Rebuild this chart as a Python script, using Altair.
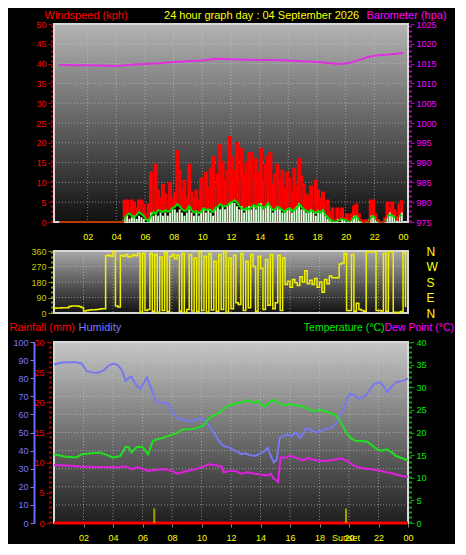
import altair as alt
import pandas as pd

# ---------------- data ----------------
HOUR_TICKS = [2, 4, 6, 8, 10, 12, 14, 16, 18, 20, 22, 24]
SAMPLES_PER_HOUR = 6  # ten-minute samples for wind

# wind gust (kph), one row per hour, ten-minute samples
GUST = [
    0, 0, 0, 0, 0, 0,
    0, 0, 0, 0, 0, 0,
    0, 0, 0, 0, 0, 0,
    0, 0, 0, 0, 0, 0,
    0, 0, 0, 5.5, 5.5, 3.5,
    5.5, 5.0, 3.5, 5.5, 5.5, 4.5,
    2.0, 4.5, 12.5, 9.0, 14.5, 8.0,
    6.0, 9.5, 7.0, 5.0, 10.0, 6.0,
    7.5, 18.0, 13.0, 8.0, 10.5, 6.0,
    14.5, 7.5, 6.0, 8.0, 5.5, 11.0,
    10.0, 12.5, 8.5, 13.5, 16.5, 9.0,
    12.0, 19.5, 15.0, 10.5, 13.0, 21.5,
    16.5, 13.0, 20.0, 11.0, 18.5, 12.0,
    15.0, 17.5, 17.5, 11.5, 16.0, 12.5,
    18.5, 10.5, 14.5, 16.5, 17.5, 9.5,
    12.0, 14.5, 10.5, 13.0, 8.5, 12.5,
    11.0, 7.5, 13.5, 9.0, 16.0, 11.5,
    9.5, 7.0, 6.5, 9.0, 5.5, 10.5,
    8.0, 6.0, 7.5, 4.5, 5.5, 2.5,
    3.5, 0.5, 3.5, 2.0, 3.5, 1.0,
    2.0, 0.5, 2.0, 4.0, 4.5, 2.0,
    0.5, 0, 0.5, 0, 5.5, 5.5,
    2.0, 0.5, 0, 0, 1.0, 5.0,
    3.5, 5.0, 3.0, 0.5, 4.5, 5.5,
]

# average wind speed (kph)
WIND_AVG = [
    0, 0, 0, 0, 0, 0,
    0, 0, 0, 0, 0, 0,
    0, 0, 0, 0, 0, 0,
    0, 0, 0, 0, 0, 0,
    0, 0, 0, 1.0, 1.8, 2.2,
    1.5, 1.2, 1.8, 2.5, 2.0, 1.5,
    0.5, 0.3, 1.5, 2.5, 2.0, 3.0,
    2.8, 2.5, 3.0, 2.6, 2.8, 3.5,
    3.8, 4.5, 4.0, 3.2, 2.8, 3.0,
    4.0, 3.0, 2.4, 2.8, 2.2, 2.6,
    3.5, 3.0, 3.2, 3.0, 2.5, 3.5,
    3.8, 4.5, 4.0, 4.0, 4.2, 4.8,
    5.0, 5.5, 5.0, 4.0, 3.5, 3.0,
    3.6, 3.2, 3.8, 4.3, 3.6, 4.5,
    4.2, 3.5, 3.8, 4.8, 3.8, 3.0,
    3.2, 3.8, 3.5, 3.0, 2.6, 3.2,
    3.5, 2.8, 3.0, 3.6, 4.5, 3.8,
    3.2, 2.8, 2.5, 3.0, 2.6, 2.2,
    2.8, 2.4, 3.0, 1.8, 1.2, 0.5,
    0.3, 0.2, 0.3, 0.5, 0.8, 0.6,
    0.3, 0.2, 0.5, 1.2, 1.5, 0.6,
    0.2, 0, 0, 0.3, 1.2, 1.5,
    0.8, 0.3, 0, 0, 0.4, 1.5,
    1.8, 1.6, 1.2, 1.0, 1.5, 1.8,
]

# instantaneous wind speed (kph)
WIND_SPEED = [
    0, 0, 0, 0, 0, 0,
    0, 0, 0, 0, 0, 0,
    0, 0, 0, 0, 0, 0,
    0, 0, 0, 0, 0, 0,
    0, 0, 0, 1.2, 1.6, 0.8,
    1.2, 1.6, 0.8, 1.6, 1.2, 0.8,
    0, 0.8, 2.4, 1.6, 2.4, 1.6,
    2.4, 1.6, 2.4, 1.6, 2.4, 3.2,
    3.2, 2.4, 3.2, 2.4, 1.6, 2.4,
    3.2, 2.4, 1.6, 2.4, 1.6, 2.4,
    3.2, 2.4, 3.2, 2.4, 1.6, 3.2,
    4.0, 3.2, 4.0, 3.2, 4.0, 4.8,
    4.8, 4.8, 4.0, 3.2, 4.0, 2.4,
    3.2, 4.0, 3.2, 4.0, 3.2, 4.0,
    4.8, 3.2, 4.0, 4.8, 4.0, 2.4,
    3.2, 4.0, 3.2, 2.4, 2.4, 3.2,
    3.2, 2.4, 3.2, 4.0, 4.8, 3.2,
    3.2, 2.4, 2.4, 3.2, 2.4, 1.6,
    2.4, 2.4, 3.2, 1.6, 0.8, 0.8,
    0, 0, 0.8, 0, 0.8, 0.8,
    0, 0, 0.8, 1.6, 1.6, 0.8,
    0, 0, 0, 0, 1.6, 1.6,
    0.8, 0, 0, 0, 0, 1.6,
    2.4, 1.6, 1.6, 0.8, 1.6, 2.4,
]

# wind direction (degrees)
WIND_DIR = [
    28, 29, 29, 30, 31, 30,
    38, 40, 41, 40, 38, 32,
    12, 15, 18, 19, 19, 20,
    22, 24, 24, 333, 335, 330,
    355, 40, 35, 335, 330, 340,
    325, 330, 338, 332, 345, 5,
    345, 15, 20, 345, 10, 340,
    5, 325, 15, 350, 8, 330,
    340, 315, 335, 10, 345, 5,
    20, 340, 12, 320, 8, 355,
    15, 330, 5, 345, 18, 300,
    10, 340, 20, 355, 5, 320,
    25, 335, 60, 50, 345, 15,
    300, 30, 340, 270, 10, 330,
    260, 20, 310, 45, 340, 25,
    60, 335, 15, 320, 165, 185,
    150, 195, 175, 160, 210, 180,
    245, 170, 190, 165, 200, 150,
    180, 120, 195, 170, 215, 205,
    205, 205, 285, 290, 345, 15,
    15, 340, 10, 57, 20, 15,
    10, 355, 355, 355, 355, 15,
    15, 12, 345, 10, 355, 355,
    5, 3, 5, 8, 350, 35,
]

BAROMETER = [
    (0, 1014.7), (1, 1014.6), (2, 1014.6), (3, 1014.5), (4, 1014.4), (4.5, 1014.5),
    (5, 1014.7), (6, 1014.9), (7, 1015.1), (8, 1015.4), (9, 1015.6), (10, 1015.8),
    (11, 1016.2), (12, 1016.1), (13, 1016.0), (14, 1015.9), (15, 1015.9), (16, 1015.8),
    (17, 1015.6), (18, 1015.4), (19, 1015.1), (19.5, 1014.9), (20, 1015.0), (20.5, 1015.4),
    (21, 1016.0), (21.5, 1016.6), (22, 1017.0), (22.5, 1017.2), (23, 1017.3), (23.5, 1017.5),
    (24, 1017.7),
]

HUMIDITY = [
    (0, 87.6), (0.5, 88.5), (1.0, 88.8), (1.5, 88.8), (1.9, 88.0), (2.2, 84.0), (2.6, 83.2),
    (3.0, 83.0), (3.4, 84.5), (3.7, 87.0), (4.0, 88.0), (4.3, 87.5), (4.6, 84.5), (4.85, 78.5),
    (5.05, 80.0), (5.25, 81.0), (5.5, 77.0), (5.85, 74.0), (6.05, 77.0), (6.3, 80.4), (6.6, 74.0),
    (6.9, 67.0), (7.3, 66.5), (7.7, 66.0), (8.0, 62.0), (8.2, 59.5), (8.4, 57.5), (8.8, 57.0),
    (9.2, 56.0), (9.6, 57.0), (10.0, 57.8), (10.3, 56.0), (10.6, 53.0), (10.9, 49.0), (11.2, 45.0),
    (11.5, 42.5), (11.8, 42.0), (12.1, 40.7), (12.4, 39.5), (12.7, 38.0), (13.0, 38.5), (13.3, 37.5),
    (13.6, 37.0), (13.9, 38.0), (14.25, 39.6), (14.5, 41.6), (14.7, 37.0), (14.9, 33.5), (15.1, 35.0),
    (15.3, 47.0), (15.5, 48.0), (15.8, 48.8), (16.1, 48.0), (16.4, 50.0), (16.7, 47.0), (17.1, 52.4),
    (17.4, 51.5), (17.75, 50.0), (18.1, 51.0), (18.4, 52.0), (18.8, 52.4), (19.1, 55.0), (19.4, 59.0),
    (19.7, 65.0), (20.05, 71.4), (20.4, 70.5), (20.7, 68.6), (21.1, 70.0), (21.4, 73.5), (21.7, 76.8),
    (22.1, 77.8), (22.35, 75.5), (22.56, 72.3), (22.9, 75.5), (23.2, 77.8), (23.65, 78.5), (24.0, 79.8),
]

TEMPERATURE = [
    (0, 15.2), (0.7, 14.7), (1.5, 14.5), (1.9, 15.2), (2.5, 15.4), (3.1, 15.6), (3.6, 15.0),
    (4.0, 14.5), (4.5, 14.8), (4.85, 16.8), (5.05, 16.8), (5.26, 15.6), (5.6, 16.8), (6.0, 16.8),
    (6.38, 15.2), (6.7, 18.1), (7.0, 18.5), (7.35, 18.8), (7.7, 19.2), (8.02, 19.5), (8.35, 19.9),
    (8.68, 20.6), (9.0, 20.7), (9.44, 20.8), (9.8, 21.1), (10.1, 21.5), (10.5, 23.1), (10.85, 23.8),
    (11.2, 24.4), (11.5, 25.2), (11.85, 26.0), (12.2, 26.3), (12.5, 26.5), (12.85, 26.8), (13.16, 27.1),
    (13.4, 26.8), (13.6, 26.5), (13.8, 27.0), (14.0, 26.4), (14.25, 25.7), (14.6, 26.6), (14.9, 27.2),
    (15.2, 26.6), (15.56, 26.0), (15.9, 26.3), (16.2, 26.1), (16.5, 26.0), (16.87, 25.7), (17.2, 25.3),
    (17.5, 24.7), (17.85, 24.9), (18.2, 24.9), (18.5, 24.6), (18.84, 24.2), (19.1, 23.8), (19.3, 23.1),
    (19.6, 21.3), (19.93, 19.5), (20.2, 18.6), (20.5, 18.1), (20.85, 18.1), (21.2, 18.0), (21.55, 17.2),
    (21.9, 16.3), (22.2, 16.0), (22.56, 16.3), (22.9, 15.6), (23.2, 14.8), (23.6, 14.3), (24.0, 13.8),
]

DEW_POINT = [
    (0, 12.8), (0.8, 12.7), (1.8, 12.5), (2.8, 12.4), (4.0, 12.3), (4.5, 12.4), (4.85, 12.6),
    (5.05, 12.2), (5.26, 11.9), (5.5, 12.2), (5.7, 12.3), (6.0, 12.0), (6.38, 11.5), (6.8, 11.7),
    (7.25, 11.9), (7.6, 11.8), (8.0, 11.5), (8.35, 10.9), (8.7, 11.2), (9.0, 11.5), (9.5, 11.8),
    (10.0, 12.3), (10.5, 13.0), (10.8, 12.8), (11.2, 12.6), (11.4, 12.4), (11.5, 11.2), (11.9, 11.5),
    (12.3, 11.5), (12.5, 11.2), (12.7, 10.9), (13.1, 11.2), (13.6, 10.9), (14.0, 10.7), (14.5, 10.5),
    (14.7, 10.9), (14.9, 9.8), (15.1, 9.4), (15.2, 9.1), (15.35, 14.5), (15.7, 14.4), (16.0, 14.9),
    (16.2, 14.6), (16.5, 14.3), (16.9, 13.8), (17.2, 14.4), (17.5, 14.1), (17.9, 13.8), (18.4, 13.7),
    (18.9, 13.9), (19.5, 14.3), (19.9, 13.6), (20.3, 12.8), (20.6, 12.3), (21.0, 12.1), (21.5, 11.9),
    (22.0, 11.6), (22.56, 11.2), (22.9, 11.0), (23.2, 10.7), (23.6, 10.4), (24.0, 10.2),
]

RAINFALL = [(0, 0.0), (24, 0.0)]
SUN_EVENTS = [(6.8, ""), (19.8, "Sunset")]

WIND_TICKS = list(range(0, 51, 5))
BARO_TICKS = list(range(975, 1026, 5))
DIR_TICKS = [0, 90, 180, 270, 360]
COMPASS = ["N", "E", "S", "W", "N"]
HUM_TICKS = list(range(0, 101, 10))
RAIN_TICKS = list(range(0, 31, 5))
TEMP_TICKS = list(range(0, 41, 5))

MAIN_TITLE = "24 hour graph day : 04 September 2026"

# ---------------- styling ----------------
FONT = "Liberation Sans"
W = 354
H1, H2, H3 = 198, 62, 181
GAP = 29
RED = "#ff0000"
YELLOW = "#ffff00"
MAGENTA = "#ff00ff"
GREEN = "#00ee00"
HUM_C = "#7a7aff"
OLIVE = "#c8c800"
GRID_C = "#d0d0d0"

XS = alt.Scale(domain=[0, 24], nice=False, zero=False)
HOUR_EXPR = "datum.value == 24 ? '00' : (datum.value < 10 ? '0' + datum.value : '' + datum.value)"


def title_style(text, color, x, y, align="left", size=11):
    return dict(title=text, titleColor=color, titleFontSize=size, titleFontWeight="normal",
                titleAngle=0, titleAlign=align, titleBaseline="middle", titleX=x, titleY=y,
                titleFont=FONT)


def bg_layer(top, bottom):
    grad = alt.LinearGradient(
        gradient="linear",
        stops=[alt.GradientStop(color=top, offset=0), alt.GradientStop(color=bottom, offset=1)],
        x1=0, x2=0, y1=0, y2=1,
    )
    return alt.Chart(pd.DataFrame({"k": [0]})).mark_rect(
        fill=grad, stroke="#d8d8d8", strokeWidth=2
    ).encode(x=alt.value(0), x2=alt.value("width"), y=alt.value(0), y2=alt.value("height"))


def vgrid(axis):
    return alt.Chart(pd.DataFrame({"hour": HOUR_TICKS[:-1]})).mark_rule(
        color=GRID_C, strokeDash=[1, 2], strokeWidth=1, opacity=0.55
    ).encode(x=alt.X("hour:Q", scale=XS, axis=axis))


def hgrid(values, scale, axis):
    return alt.Chart(pd.DataFrame({"v": values})).mark_rule(
        color=GRID_C, strokeDash=[1, 2], strokeWidth=1, opacity=0.55
    ).encode(y=alt.Y("v:Q", scale=scale, axis=axis))


# ---------------- top panel: wind + barometer ----------------
hours10 = [i / SAMPLES_PER_HOUR for i in range(len(GUST))]
wind_df = pd.DataFrame({
    "hour": hours10,
    "hour_end": [h + 1 / SAMPLES_PER_HOUR for h in hours10],
    "mid": [h + 0.5 / SAMPLES_PER_HOUR for h in hours10],
    "gust": GUST, "avg": WIND_AVG, "speed": WIND_SPEED,
})
baro_df = pd.DataFrame(BAROMETER, columns=["hour", "hpa"])

top_x_axis = alt.Axis(values=HOUR_TICKS, labelExpr=HOUR_EXPR, labelColor=YELLOW, labelFontSize=9,
                      labelPadding=10, ticks=False, domain=False, grid=False, labelFlush=False,
                      labelOverlap=False,
                      **title_style(MAIN_TITLE, YELLOW, W * 0.585, -(H1 + 9), "center"))
wind_scale = alt.Scale(domain=[0, 50], nice=False)
baro_scale = alt.Scale(domain=[975, 1025], nice=False, zero=False)
wind_axis = alt.Axis(orient="left", values=WIND_TICKS, labelColor=RED, labelFontSize=9,
                     labelPadding=2, tickColor="#b00000", tickSize=4, domainColor="#b00000",
                     domainWidth=3, domainDash=[2, 3], grid=False, offset=2, labelOverlap=False,
                     **title_style("Windspeed (kph)", RED, -8, -9))
baro_axis = alt.Axis(orient="right", values=BARO_TICKS, format="d", labelColor=MAGENTA,
                     labelFontSize=9, labelPadding=2, tickColor="#b000b0", tickSize=4,
                     domainColor="#b000b0", domainWidth=3, domainDash=[2, 3], grid=False,
                     offset=2, labelOverlap=False,
                     **title_style("Barometer (hpa)", MAGENTA, -44, -9))

wbase = alt.Chart(wind_df)
gust_rect = wbase.mark_rect(color=RED).encode(
    x=alt.X("hour:Q", scale=XS, axis=top_x_axis), x2="hour_end:Q",
    y=alt.Y("gust:Q", scale=wind_scale, axis=wind_axis), y2=alt.datum(0))
avg_rect = wbase.mark_rect(color="#000000").encode(
    x=alt.X("hour:Q", scale=XS, axis=top_x_axis), x2="hour_end:Q",
    y=alt.Y("avg:Q", scale=wind_scale, axis=wind_axis), y2=alt.datum(0))
speed_bars = wbase.mark_bar(color="#d6ffd6", size=1.9).encode(
    x=alt.X("mid:Q", scale=XS, axis=top_x_axis),
    y=alt.Y("speed:Q", scale=wind_scale, axis=wind_axis))
avg_line = wbase.mark_line(color="#00e000", strokeWidth=2).encode(
    x=alt.X("mid:Q", scale=XS, axis=top_x_axis),
    y=alt.Y("avg:Q", scale=wind_scale, axis=wind_axis))
gust_line = wbase.mark_line(color=RED, strokeWidth=1.5, interpolate="step-after").encode(
    x=alt.X("hour:Q", scale=XS, axis=top_x_axis),
    y=alt.Y("gust:Q", scale=wind_scale, axis=wind_axis))

wind_group = alt.layer(vgrid(top_x_axis), hgrid(WIND_TICKS[1:-1], wind_scale, wind_axis),
                       gust_rect, avg_rect, speed_bars, avg_line, gust_line)
baro_line = alt.Chart(baro_df).mark_line(color="#e030e0", strokeWidth=2).encode(
    x=alt.X("hour:Q", scale=XS, axis=top_x_axis),
    y=alt.Y("hpa:Q", scale=baro_scale, axis=baro_axis))

top = alt.layer(bg_layer("#b4b4b4", "#101010"), wind_group, baro_line).resolve_scale(
    y="independent").properties(width=W, height=H1)

# ---------------- middle panel: wind direction ----------------
dir_df = pd.DataFrame({"hour": hours10, "deg": WIND_DIR})
dir_scale = alt.Scale(domain=[0, 360], nice=False)
compass_scale = alt.Scale(domain=[0, 360], nice=False)
dir_axis = alt.Axis(orient="left", values=DIR_TICKS, labelColor=OLIVE, labelFontSize=9,
                    labelPadding=2, tickColor="#909000", tickSize=4, domainColor="#909000",
                    domainWidth=3, domainDash=[2, 3], grid=False, offset=2, title=None,
                    labelOverlap=False)
compass_expr = " : ".join(
    f"datum.value == {d} ? '{c}'" for d, c in zip(DIR_TICKS, COMPASS)) + " : ''"
compass_axis = alt.Axis(orient="right", values=DIR_TICKS, labelExpr=compass_expr,
                        labelColor=YELLOW, labelFontSize=12, labelPadding=18, ticks=False,
                        domain=False, grid=False, title=None, labelOverlap=False)

dir_line = alt.Chart(dir_df).mark_line(color="#f0f000", strokeWidth=1.5,
                                       interpolate="step-after").encode(
    x=alt.X("hour:Q", scale=XS, axis=None),
    y=alt.Y("deg:Q", scale=dir_scale, axis=dir_axis))
dir_group = alt.layer(vgrid(None), hgrid(DIR_TICKS[1:-1], dir_scale, dir_axis), dir_line)
compass = alt.Chart(pd.DataFrame({"deg": DIR_TICKS})).mark_rule(opacity=0).encode(
    y=alt.Y("deg:Q", scale=compass_scale, axis=compass_axis))

mid = alt.layer(bg_layer("#a8a8a8", "#121212"), dir_group, compass).resolve_scale(
    y="independent").properties(width=W, height=H2)

# ---------------- bottom panel: temperature, humidity, rain ----------------
hum_df = pd.DataFrame(HUMIDITY, columns=["hour", "hum"])
temp_df = pd.DataFrame(TEMPERATURE, columns=["hour", "temp"])
dew_df = pd.DataFrame(DEW_POINT, columns=["hour", "dew"])
rain_df = pd.DataFrame(RAINFALL, columns=["hour", "mm"])
sun_df = pd.DataFrame(SUN_EVENTS, columns=["hour", "label"])
sun_df["base"] = 0.0
sun_df["top"] = 2.4

bot_x_axis = alt.Axis(values=HOUR_TICKS, labelExpr=HOUR_EXPR, labelColor=YELLOW, labelFontSize=9,
                      labelPadding=6, ticks=True, tickColor="#888888", tickSize=4, domain=False,
                      grid=False, title=None, labelFlush=False, labelOverlap=False)
hum_scale = alt.Scale(domain=[0, 100], nice=False)
rain_scale = alt.Scale(domain=[0, 30], nice=False)
temp_scale = alt.Scale(domain=[0, 40], nice=False)
dew_scale = alt.Scale(domain=[0, 40], nice=False)

rain_axis = alt.Axis(orient="left", values=RAIN_TICKS, labelColor=RED, labelFontSize=9,
                     labelPadding=2, tickColor="#b00000", tickSize=4, domainColor="#b00000",
                     domainWidth=3, domainDash=[2, 3], grid=False, offset=4, labelOverlap=False,
                     **title_style("Rainfall (mm)", RED, -41, -15))
hum_axis = alt.Axis(orient="left", values=HUM_TICKS, labelColor=HUM_C, labelFontSize=9,
                    labelPadding=2, tickColor=HUM_C, tickSize=4, domainColor="#6a6aff",
                    domainWidth=2, grid=False, offset=20, labelOverlap=False,
                    **title_style("Humidity", HUM_C, 44, -15))
temp_axis = alt.Axis(orient="right", values=TEMP_TICKS, labelColor=GREEN, labelFontSize=9,
                     labelPadding=2, tickColor="#00a000", tickSize=4, domainColor="#00a000",
                     domainWidth=3, domainDash=[2, 3], grid=False, offset=2, labelOverlap=False,
                     **title_style("Temperature (°C)", GREEN, -26, -15, "right", 10.5))
dew_axis = alt.Axis(orient="right", labels=False, ticks=False, domain=False, grid=False,
                    **title_style("Dew Point (°C)", MAGENTA, -24, -15, "left", 10.5))

rain_line = alt.Chart(rain_df).mark_line(color=RED, strokeWidth=3).encode(
    x=alt.X("hour:Q", scale=XS, axis=bot_x_axis),
    y=alt.Y("mm:Q", scale=rain_scale, axis=rain_axis))
sun_rules = alt.Chart(sun_df).mark_rule(color="#a8a000", strokeWidth=2).encode(
    x=alt.X("hour:Q", scale=XS, axis=bot_x_axis),
    y=alt.Y("base:Q", scale=rain_scale, axis=rain_axis), y2="top:Q")
rain_group = alt.layer(rain_line, sun_rules)

hum_line = alt.Chart(hum_df).mark_line(color="#7878f0", strokeWidth=2).encode(
    x=alt.X("hour:Q", scale=XS, axis=bot_x_axis),
    y=alt.Y("hum:Q", scale=hum_scale, axis=hum_axis))
hum_group = alt.layer(hgrid(HUM_TICKS[1:-1], hum_scale, hum_axis), hum_line)

temp_line = alt.Chart(temp_df).mark_line(color="#20e020", strokeWidth=2).encode(
    x=alt.X("hour:Q", scale=XS, axis=bot_x_axis),
    y=alt.Y("temp:Q", scale=temp_scale, axis=temp_axis))
dew_line = alt.Chart(dew_df).mark_line(color="#e020e0", strokeWidth=2).encode(
    x=alt.X("hour:Q", scale=XS, axis=bot_x_axis),
    y=alt.Y("dew:Q", scale=dew_scale, axis=dew_axis))
sunset_text = alt.Chart(sun_df).mark_text(color=YELLOW, fontSize=9, font=FONT,
                                          baseline="middle").encode(
    x=alt.X("hour:Q", scale=XS, axis=bot_x_axis), y=alt.value(H3 + 15), text="label:N")

bot = alt.layer(bg_layer("#c6c6c6", "#1e1e1e"), vgrid(bot_x_axis), rain_group, hum_group,
                temp_line, dew_line, sunset_text).resolve_scale(
    y="independent").properties(width=W, height=H3)

chart = alt.vconcat(top, mid, bot, spacing=GAP, bounds="flush").properties(
    padding={"left": 1, "right": 1, "top": 1, "bottom": 1}
).configure(background="#000000", font=FONT).configure_view(stroke=None).configure_axis(
    labelFont=FONT, titleFont=FONT)

chart.save("out.html", embed_options={"renderer": "svg", "actions": False})
